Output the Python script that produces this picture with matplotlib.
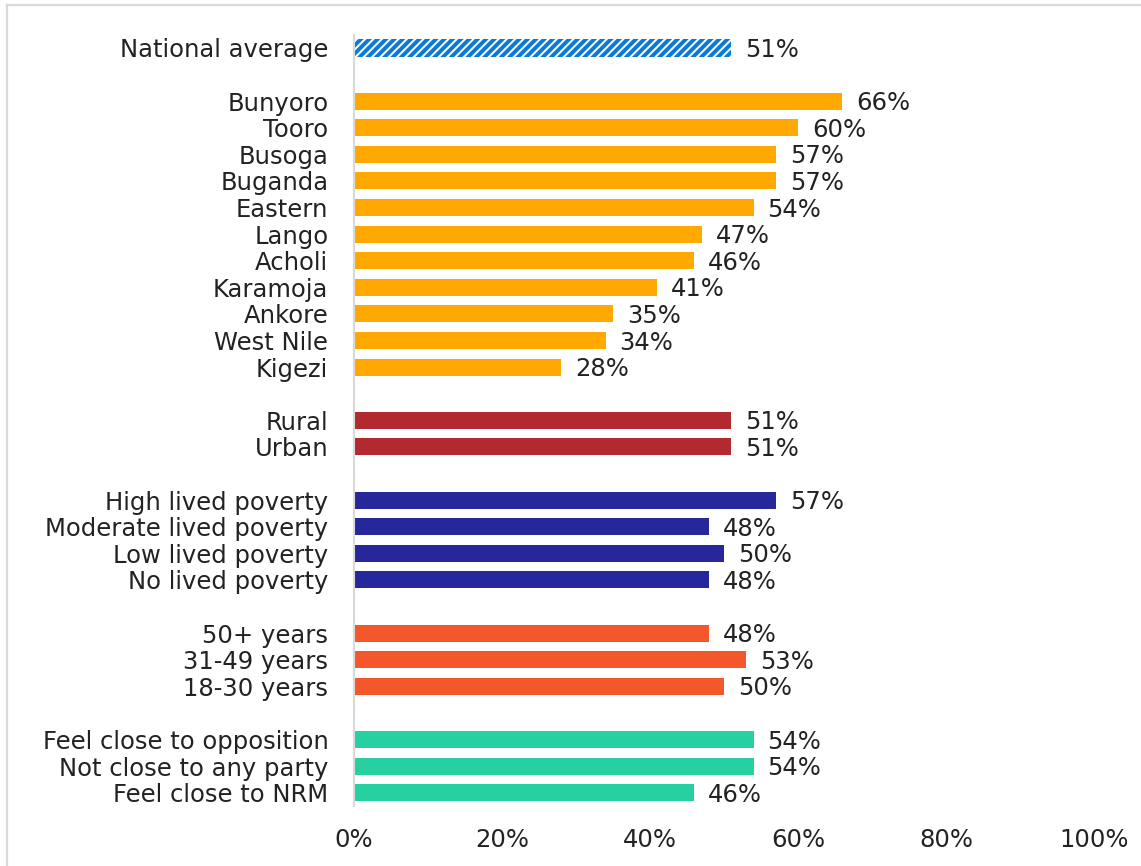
import matplotlib
matplotlib.use("Agg")
import matplotlib.pyplot as plt
from matplotlib.lines import Line2D
from matplotlib.ticker import FuncFormatter

plt.rcParams['font.family'] = ['DejaVu Sans']
plt.rcParams['hatch.linewidth'] = 2.8

# Categories (top to bottom); groups are separated by a blank row
national_label = ["National average"]
national_values = [51]

region_labels = ["Bunyoro", "Tooro", "Busoga", "Buganda", "Eastern", "Lango",
                 "Acholi", "Karamoja", "Ankore", "West Nile", "Kigezi"]
region_values = [66, 60, 57, 57, 54, 47, 46, 41, 35, 34, 28]

location_labels = ["Rural", "Urban"]
location_values = [51, 51]

poverty_labels = ["High lived poverty", "Moderate lived poverty",
                  "Low lived poverty", "No lived poverty"]
poverty_values = [57, 48, 50, 48]

age_labels = ["50+ years", "31-49 years", "18-30 years"]
age_values = [48, 53, 50]

party_labels = ["Feel close to opposition", "Not close to any party",
                "Feel close to NRM"]
party_values = [54, 54, 46]

x_ticks = [0, 20, 40, 60, 80, 100]

groups = [
    (national_label, national_values, "#0A7AD8", True),
    (region_labels, region_values, "#FFA800", False),
    (location_labels, location_values, "#B22A30", False),
    (poverty_labels, poverty_values, "#26279A", False),
    (age_labels, age_values, "#F4582A", False),
    (party_labels, party_values, "#27D0A0", False),
]

FS = 17.5
TEXT = "#222222"

fig = plt.figure(figsize=(11.41, 8.66), dpi=100)
ax = fig.add_axes([354 / 1141, 60 / 866, 740 / 1141, 771.3 / 866])

pos = 0
ytick_pos, ytick_lab = [], []
for labels, values, color, hatched in groups:
    for lab, val in zip(labels, values):
        if hatched:
            ax.barh(pos, val, height=0.68, facecolor="white", edgecolor=color,
                    hatch="////", linewidth=0)
        else:
            ax.barh(pos, val, height=0.64, color=color, linewidth=0)
        ax.annotate(f"{val}%", xy=(val, pos), xytext=(10, -1.5),
                    textcoords="offset points", va="center", ha="left",
                    fontsize=FS, color=TEXT)
        ytick_pos.append(pos)
        ytick_lab.append(lab)
        pos += 1
    pos += 1
pos -= 1

ax.set_ylim(pos - 0.5, -0.5)
ax.set_xlim(0, 100)
ax.set_yticks(ytick_pos)
ax.set_yticklabels(ytick_lab, fontsize=FS, color=TEXT)
ax.set_xticks(x_ticks)
ax.xaxis.set_major_formatter(FuncFormatter(lambda v, p: f"{v:.0f}%"))
ax.tick_params(axis="x", length=0, pad=16, labelsize=FS, labelcolor=TEXT)
ax.tick_params(axis="y", length=0, pad=18.5)

for s in ["top", "right", "bottom"]:
    ax.spines[s].set_visible(False)
ax.spines["left"].set_color("#D9D9D9")
ax.spines["left"].set_linewidth(1.5)

# outer frame (top and left edges)
fig.add_artist(Line2D([7 / 1141, 1.0], [1 - 5 / 866, 1 - 5 / 866],
                      transform=fig.transFigure, color="#D9D9D9", lw=1.6))
fig.add_artist(Line2D([7 / 1141, 7 / 1141], [0.0, 1 - 5 / 866],
                      transform=fig.transFigure, color="#D9D9D9", lw=1.6))

fig.savefig("out.png", dpi=100)
